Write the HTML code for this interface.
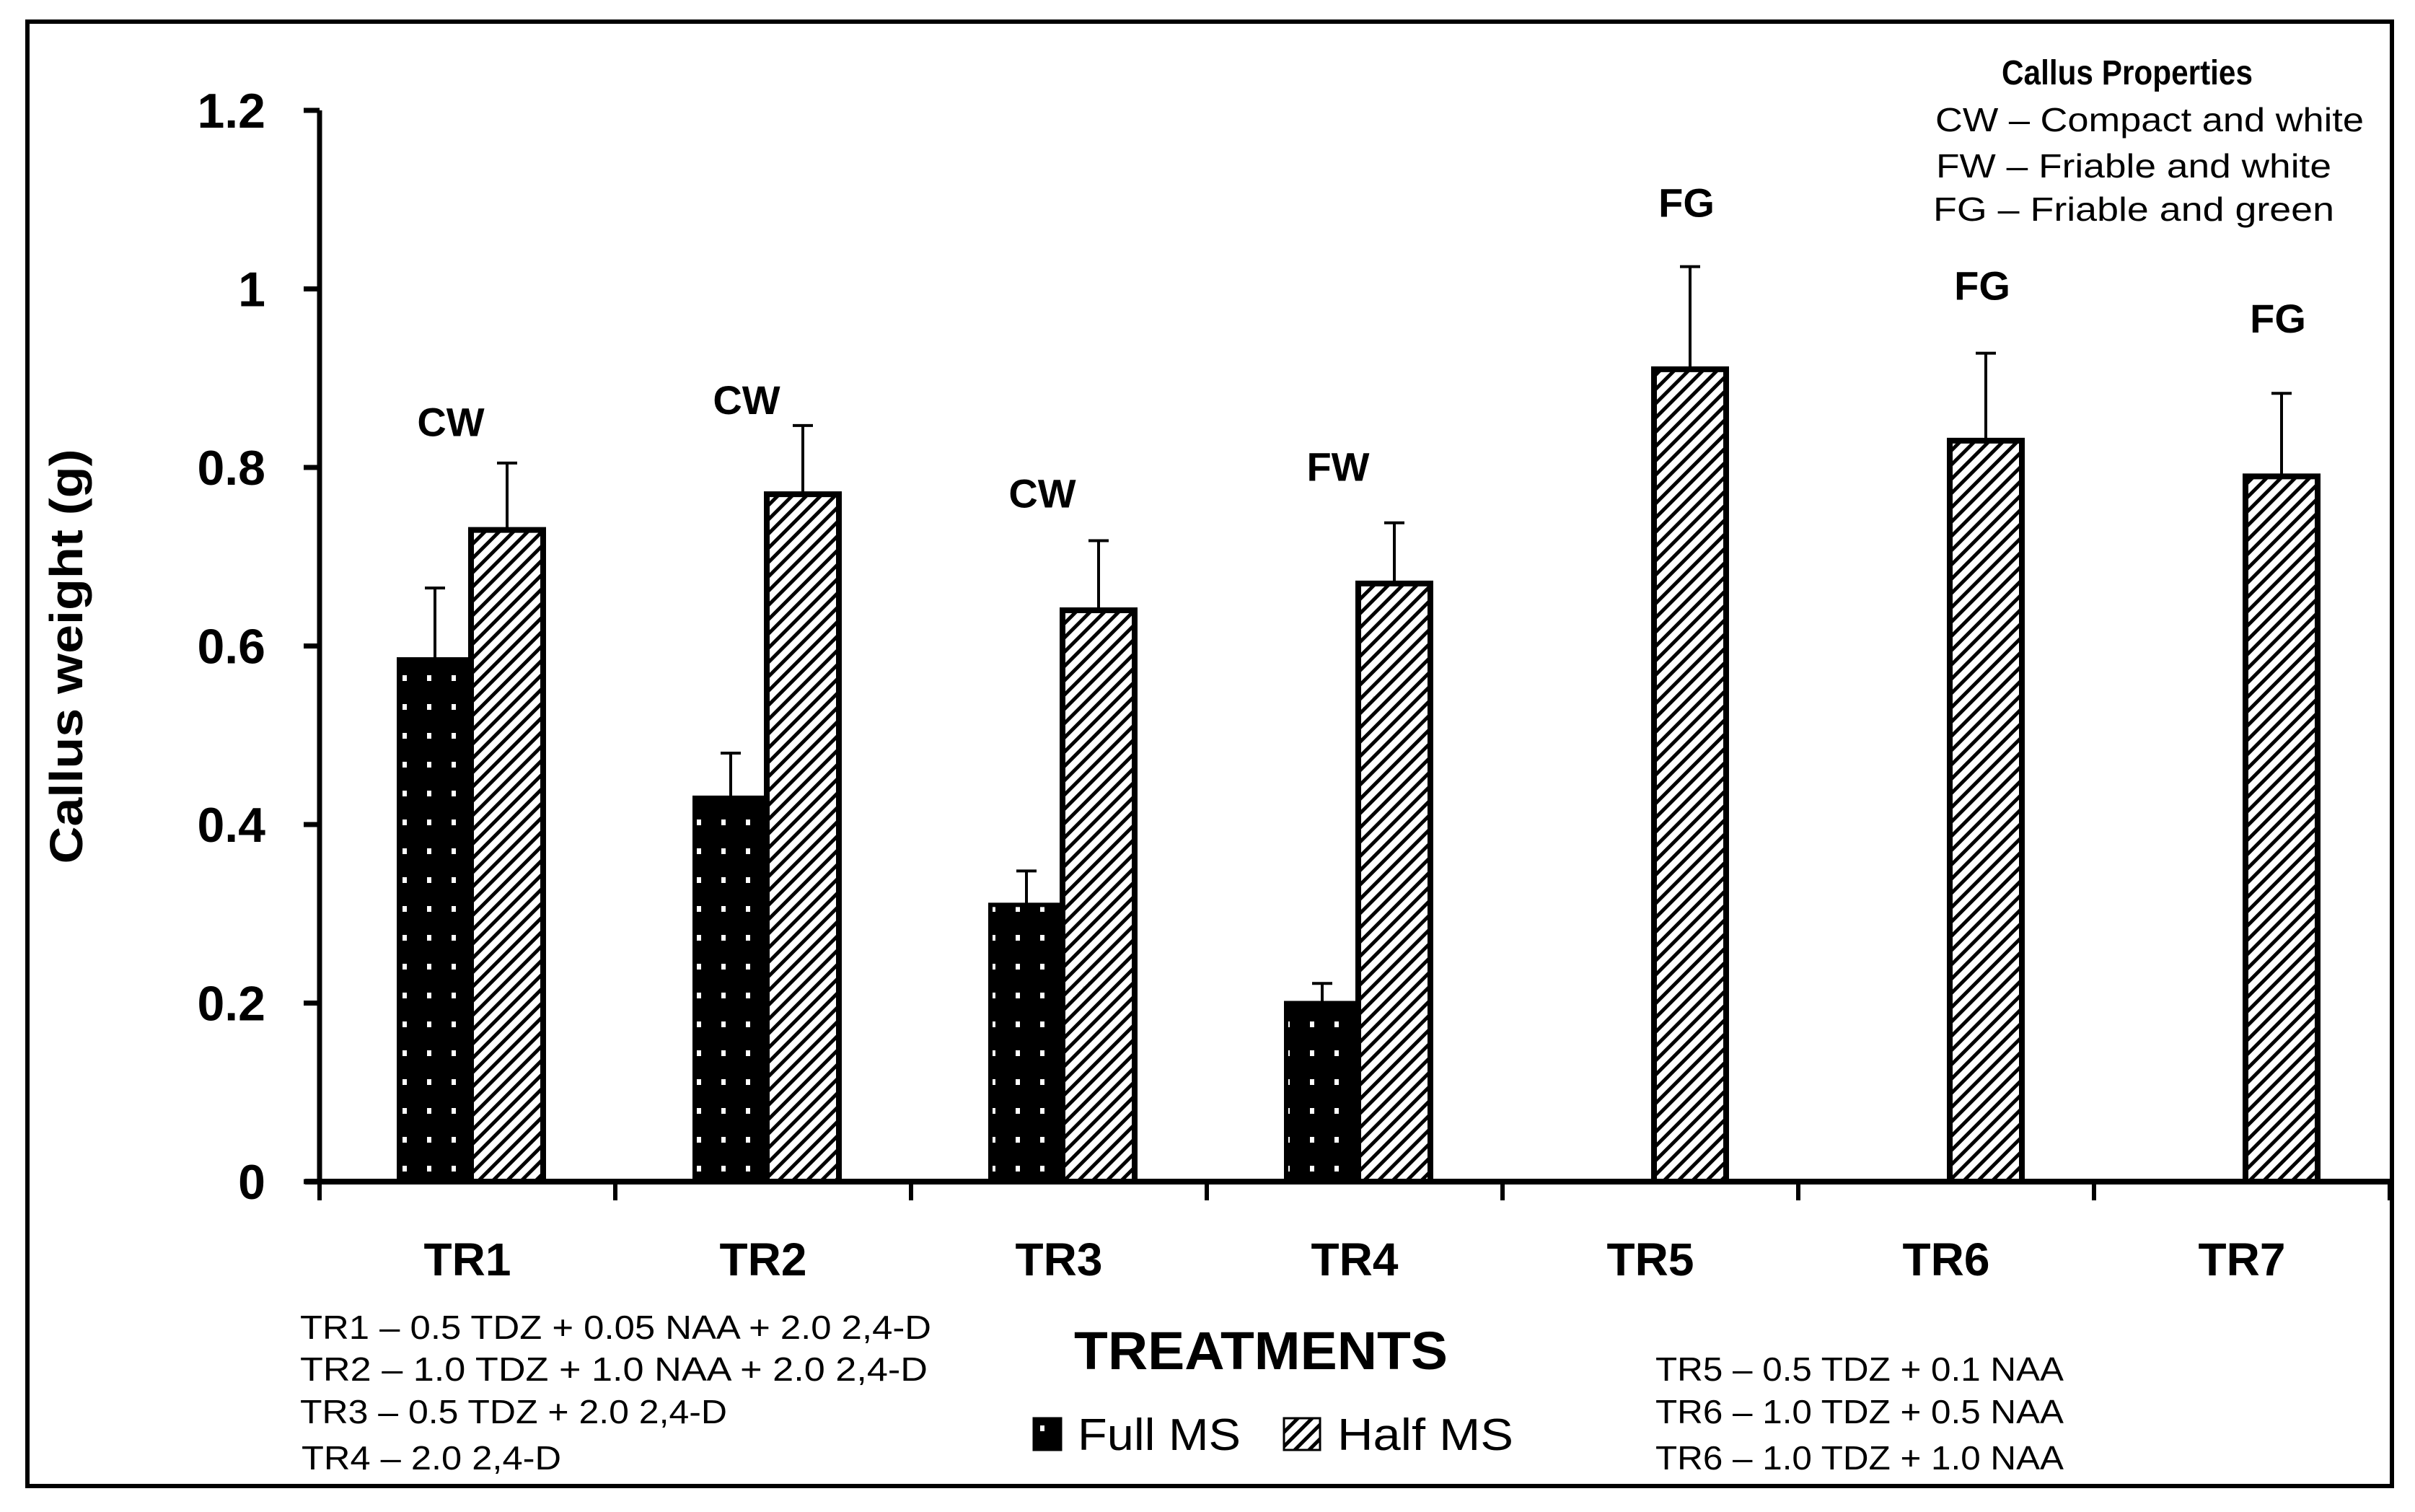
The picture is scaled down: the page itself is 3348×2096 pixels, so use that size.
<!DOCTYPE html>
<html><head><meta charset="utf-8"><style>
html,body{margin:0;padding:0;background:#fff;}
svg{display:block;font-family:"Liberation Sans",sans-serif;}
</style></head><body>
<svg id="chart" width="3348" height="2096" viewBox="0 0 3348 2096" xmlns="http://www.w3.org/2000/svg">
<defs>
<pattern id="dots" patternUnits="userSpaceOnUse" width="34" height="40"><rect width="34" height="40" fill="#000"/><rect x="14" y="16" width="6" height="8" fill="#fff"/></pattern>
<pattern id="hatch" patternUnits="userSpaceOnUse" width="14" height="14" patternTransform="rotate(45)"><rect width="14" height="14" fill="#fff"/><rect x="0" y="0" width="5" height="14" fill="#000"/></pattern>
</defs>
<rect x="38" y="30" width="3278" height="2030" fill="none" stroke="#000" stroke-width="6"/>
<g id="axes"></g>
<g id="bars"></g>
<text transform="translate(114,910) rotate(-90)" text-anchor="middle" font-size="64" font-weight="bold" textLength="575" lengthAdjust="spacingAndGlyphs">Callus weight (g)</text>
<text x="1748" y="1898" text-anchor="middle" font-size="74" font-weight="bold" textLength="518" lengthAdjust="spacingAndGlyphs">TREATMENTS</text>
<g>
<rect x="1433" y="1966" width="38" height="44" fill="url(#dots)" stroke="#000" stroke-width="3"/>
<text x="1494" y="2010" font-size="62" textLength="226" lengthAdjust="spacingAndGlyphs">Full MS</text>
<rect x="1780" y="1966" width="50" height="44" fill="url(#hatch)" stroke="#000" stroke-width="3"/>
<text x="1854" y="2010" font-size="62" textLength="244" lengthAdjust="spacingAndGlyphs">Half MS</text>
</g>
<g font-size="46">
<text x="416" y="1856" textLength="875" lengthAdjust="spacingAndGlyphs">TR1 – 0.5 TDZ + 0.05 NAA + 2.0 2,4-D</text>
<text x="416" y="1914" textLength="870" lengthAdjust="spacingAndGlyphs">TR2 – 1.0 TDZ + 1.0 NAA + 2.0 2,4-D</text>
<text x="416" y="1973" textLength="592" lengthAdjust="spacingAndGlyphs">TR3 – 0.5 TDZ + 2.0 2,4-D</text>
<text x="418" y="2037" textLength="360" lengthAdjust="spacingAndGlyphs">TR4 – 2.0 2,4-D</text>
</g>
<g font-size="46">
<text x="2295" y="1914" textLength="566" lengthAdjust="spacingAndGlyphs">TR5 – 0.5 TDZ + 0.1 NAA</text>
<text x="2295" y="1973" textLength="566" lengthAdjust="spacingAndGlyphs">TR6 – 1.0 TDZ + 0.5 NAA</text>
<text x="2295" y="2037" textLength="566" lengthAdjust="spacingAndGlyphs">TR6 – 1.0 TDZ + 1.0 NAA</text>
</g>
<g font-size="46" text-anchor="middle">
<text x="2949" y="117" font-weight="bold" font-size="48" textLength="348" lengthAdjust="spacingAndGlyphs">Callus Properties</text>
<text x="2980" y="182" textLength="594" lengthAdjust="spacingAndGlyphs">CW – Compact and white</text>
<text x="2958" y="246" textLength="548" lengthAdjust="spacingAndGlyphs">FW – Friable and white</text>
<text x="2958" y="306" textLength="556" lengthAdjust="spacingAndGlyphs">FG – Friable and green</text>
</g>
</svg>
<script>
const categories = ["TR1","TR2","TR3","TR4","TR5","TR6","TR7"];
const fullMS = [0.585, 0.43, 0.31, 0.2, null, null, null];
const fullErr = [0.08, 0.05, 0.038, 0.022, null, null, null];
const halfMS = [0.73, 0.77, 0.64, 0.67, 0.91, 0.83, 0.79];
const halfErr = [0.075, 0.077, 0.078, 0.068, 0.115, 0.098, 0.093];
const props = ["CW","CW","CW","FW","FG","FG","FG"];
const labelValues = [0.835, 0.86, 0.755, 0.785, 1.081, 0.988, 0.951];
const yTicks = [0, 0.2, 0.4, 0.6, 0.8, 1, 1.2];
const yTickLabels = ["0","0.2","0.4","0.6","0.8","1","1.2"];

const NS = "http://www.w3.org/2000/svg";
const X0 = 443, CW = 410, Y0 = 1638, YS = 1237.5, BW = 100;
const y = v => Y0 - v * YS;
const xc = i => X0 + CW * (i + 0.5);
function mk(tag, attrs, parent, text) {
  const e = document.createElementNS(NS, tag);
  for (const k in attrs) e.setAttribute(k, attrs[k]);
  if (text !== undefined) e.textContent = text;
  parent.appendChild(e);
  return e;
}
const axes = document.getElementById("axes");
const bars = document.getElementById("bars");
let e = mk("line", {x1: X0, y1: y(1.2), x2: X0, y2: Y0, stroke: "#000", "stroke-width": 7}, axes);


e = mk("line", {x1: X0 - 20, y1: Y0, x2: X0 + CW * categories.length, y2: Y0, stroke: "#000", "stroke-width": 8}, axes);


yTicks.forEach((t, i) => {
  let tk = mk("line", {x1: X0 - 22, y1: y(t), x2: X0, y2: y(t), stroke: "#000", "stroke-width": 7}, axes);
  
  
  let lb = mk("text", {x: 368, y: y(t) + 24, "text-anchor": "end", "font-size": 68, "font-weight": "bold"}, axes, yTickLabels[i]);
  
  
});
for (let i = 0; i <= categories.length; i++) {
  let tk = mk("line", {x1: X0 + CW * i, y1: Y0, x2: X0 + CW * i, y2: Y0 + 26, stroke: "#000", "stroke-width": 6}, axes);
  
  
}
categories.forEach((c, i) => {
  let lb = mk("text", {x: xc(i), y: 1768, "text-anchor": "middle", "font-size": 64, "font-weight": "bold"}, axes, c);
  
  
  const cx = xc(i) + 5;
  if (fullMS[i] !== null) {
    const top = y(fullMS[i] + fullErr[i]);
    let el = mk("line", {x1: cx - BW / 2, y1: top, x2: cx - BW / 2, y2: y(fullMS[i]), stroke: "#000", "stroke-width": 4}, bars);
    
    
    el = mk("line", {x1: cx - BW / 2 - 14, y1: top, x2: cx - BW / 2 + 14, y2: top, stroke: "#000", "stroke-width": 4}, bars);
    
    
    let b = mk("rect", {x: cx - BW, y: y(fullMS[i]), width: BW, height: Y0 - y(fullMS[i]), fill: "url(#dots)", stroke: "#000", "stroke-width": 6}, bars);
    
    
  }
  const top2 = y(halfMS[i] + halfErr[i]);
  let el = mk("line", {x1: cx + BW / 2, y1: top2, x2: cx + BW / 2, y2: y(halfMS[i]), stroke: "#000", "stroke-width": 4}, bars);
  
  
  el = mk("line", {x1: cx + BW / 2 - 14, y1: top2, x2: cx + BW / 2 + 14, y2: top2, stroke: "#000", "stroke-width": 4}, bars);
  
  
  let b = mk("rect", {x: cx, y: y(halfMS[i]), width: BW, height: Y0 - y(halfMS[i]), fill: "url(#hatch)", stroke: "#000", "stroke-width": 8}, bars);
  
  
  const lx = fullMS[i] !== null ? cx - 28 : cx + 45;
  let t = mk("text", {x: lx, y: y(labelValues[i]), "text-anchor": "middle", "font-size": 56, "font-weight": "bold"}, bars, props[i]);
  
  
});
</script>
</body></html>
